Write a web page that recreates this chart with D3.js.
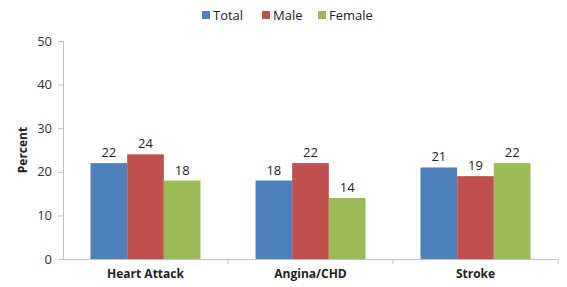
<!DOCTYPE html>
<html>
<head>
<meta charset="utf-8">
<script src="https://cdn.jsdelivr.net/npm/d3@7"></script>
<style>
body { margin: 0; background: #fff; }
text { font-family: "Open Sans", "Liberation Sans", sans-serif; }
</style>
</head>
<body>
<div class="chart"></div>
<script>
var categories = ["Heart Attack", "Angina/CHD", "Stroke"];
var seriesNames = ["Total", "Male", "Female"];
var total = [22, 18, 21];
var male = [24, 22, 19];
var female = [18, 14, 22];
var yTicks = [0, 10, 20, 30, 40, 50];
var colors = ["#4F81BD", "#C0504D", "#9BBB59"];

var W = 567, H = 287;
var mLeft = 63, mRight = 558, mTop = 41, mBottom = 259;

var series = [total, male, female];

var svg = d3.select(".chart").append("svg")
	.attr("width", W)
	.attr("height", H);

var x = d3.scaleBand().domain(categories).range([mLeft, mRight]);
var y = d3.scaleLinear().domain([0, 50]).range([mBottom, mTop]);
var inner = d3.scaleBand().domain(seriesNames).range([0, 110]);

// y axis
var yAxis = svg.append("g")
	.attr("transform", "translate(" + mLeft + ",0)")
	.call(d3.axisLeft(y).tickValues(yTicks).tickSize(5).tickPadding(6));
yAxis.select(".domain").attr("stroke", "#bfbfbf");
yAxis.selectAll(".tick line").attr("stroke", "#bfbfbf");
yAxis.selectAll("text").attr("font-size", 13).attr("fill", "#333");

// x axis
var xAxis = svg.append("g")
	.attr("transform", "translate(0," + mBottom + ")")
	.call(d3.axisBottom(x).tickSize(0).tickPadding(10));
xAxis.select(".domain").attr("stroke", "#bfbfbf");
xAxis.selectAll("text").attr("font-size", 12).attr("font-weight", "bold").attr("fill", "#222");
// boundary ticks between categories
var bounds = categories.slice(1).map(function(c) { return x(c); }).concat([mRight]);
svg.selectAll(".btick").data(bounds).enter().append("line")
	.attr("x1", function(d) { return d; }).attr("x2", function(d) { return d; })
	.attr("y1", mBottom).attr("y2", mBottom + 5)
	.attr("stroke", "#bfbfbf");

// bars
seriesNames.forEach(function(name, si) {
	var g = svg.append("g");
	g.selectAll("rect").data(series[si]).enter().append("rect")
		.attr("x", function(d, i) { return x(categories[i]) + (x.bandwidth() - 110) / 2 + inner(name); })
		.attr("width", inner.bandwidth())
		.attr("y", function(d) { return y(d); })
		.attr("height", function(d) { return mBottom - y(d); })
		.attr("fill", colors[si]);
	g.selectAll("text").data(series[si]).enter().append("text")
		.attr("x", function(d, i) { return x(categories[i]) + (x.bandwidth() - 110) / 2 + inner(name) + inner.bandwidth() / 2; })
		.attr("y", function(d) { return y(d) - 6; })
		.attr("text-anchor", "middle")
		.attr("font-size", 13)
		.attr("fill", "#222")
		.text(function(d) { return d; });
});

// y label
svg.append("text")
	.attr("transform", "translate(27," + ((mTop + mBottom) / 2) + ") rotate(-90)")
	.attr("text-anchor", "middle")
	.attr("font-size", 12)
	.attr("font-weight", "bold")
	.attr("fill", "#222")
	.text("Percent");

// legend
var legendX = [202, 262, 318];
var legend = svg.append("g");
seriesNames.forEach(function(name, i) {
	legend.append("rect")
		.attr("x", legendX[i]).attr("y", 11)
		.attr("width", 8).attr("height", 8)
		.attr("fill", colors[i]);
	legend.append("text")
		.attr("x", legendX[i] + 11).attr("y", 20)
		.attr("font-size", 13)
		.attr("fill", "#222")
		.text(name);
});
</script>
</body>
</html>
